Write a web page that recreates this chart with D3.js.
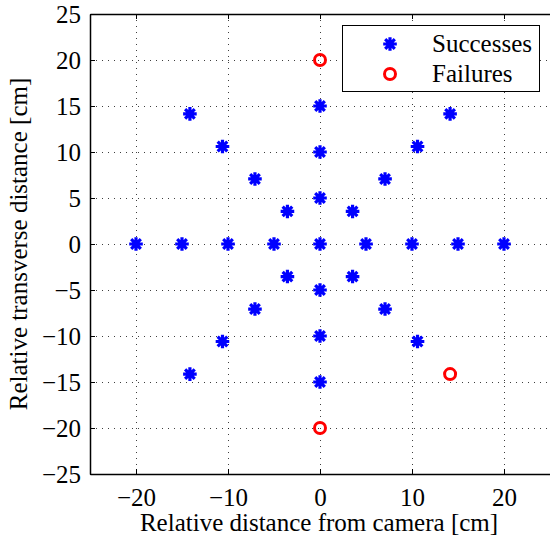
<!DOCTYPE html>
<html>
  <head>
    <meta charset='UTF-8'>
    <style>
    body { margin: 0; background: #fff; }
    svg { display: block; font-family: 'Liberation Serif', 'Times New Roman', serif; }
    .grid line { stroke: #000; stroke-width: 1; stroke-dasharray: 1,5; opacity: 0.75; }
    </style>
  </head>
  <body>
  <script src='https://cdnjs.cloudflare.com/ajax/libs/d3/7.8.5/d3.min.js'></script>
  <script>

    // data (cm)
    var successX = [0, 5, 3.54, 0, -3.54, -5, -3.54, 0, 3.54,
                    10, 7.07, 0, -7.07, -10, -7.07, 0, 7.07,
                    15, 10.6, 0, -10.6, -15, -10.6, 0, 10.6,
                    20, 14.14, -14.14, -20, -14.14];
    var successY = [0, 0, 3.54, 5, 3.54, 0, -3.54, -5, -3.54,
                    0, 7.07, 10, 7.07, 0, -7.07, -10, -7.07,
                    0, 10.6, 15, 10.6, 0, -10.6, -15, -10.6,
                    0, 14.14, 14.14, 0, -14.14];
    var failureX = [0, 0, 14.14];
    var failureY = [20, -20, -14.14];

    var xTicks = [-20, -10, 0, 10, 20];
    var yTicks = [-25, -20, -15, -10, -5, 0, 5, 10, 15, 20, 25];
    var legendLabels = ['Successes', 'Failures'];

    (function() {
    var width = 550, height = 538;
    var mLeft = 90, mTop = 14, mRight = 550, mBottom = 474;
    var fs = 25;

    var x = d3.scaleLinear().domain([-25, 25]).range([mLeft, mRight]);
    var y = d3.scaleLinear().domain([-25, 25]).range([mBottom, mTop]);

    var svg = d3.select('body').append('svg')
      .attr('width', width)
      .attr('height', height);

    // dotted grid
    var grid = svg.append('g').attr('class', 'grid');
    grid.selectAll('.gx').data(xTicks).enter().append('line')
      .attr('x1', d => Math.round(x(d)) + 0.5).attr('x2', d => Math.round(x(d)) + 0.5)
      .attr('y1', mTop).attr('y2', mBottom);
    grid.selectAll('.gy').data(yTicks.slice(1, -1)).enter().append('line')
      .attr('y1', d => Math.round(y(d)) + 0.5).attr('y2', d => Math.round(y(d)) + 0.5)
      .attr('x1', mLeft).attr('x2', mRight);

    var fmt = d => d < 0 ? '\u2212' + Math.abs(d) : d;

    // axes, MATLAB style: inward ticks
    var xAxis = svg.append('g').attr('transform', 'translate(0,' + mBottom + ')')
      .call(d3.axisBottom(x).tickValues(xTicks).tickSizeInner(-5).tickSizeOuter(0).tickPadding(14)
        .tickFormat(fmt));
    var xAxisTop = svg.append('g').attr('transform', 'translate(0,' + mTop + ')')
      .call(d3.axisTop(x).tickValues(xTicks).tickSizeInner(-5).tickSizeOuter(0).tickFormat(''));
    var yAxis = svg.append('g').attr('transform', 'translate(' + mLeft + ',0)')
      .call(d3.axisLeft(y).tickValues(yTicks).tickSizeInner(-5).tickSizeOuter(0).tickPadding(9)
        .tickFormat(fmt));

    [xAxis, xAxisTop, yAxis].forEach(function(g) {
      g.selectAll('.domain').attr('stroke', '#000').attr('stroke-width', 1.5);
      g.selectAll('.tick line').attr('stroke', '#000');
      g.selectAll('text').attr('font-family', 'Liberation Serif').attr('font-size', fs).attr('fill', '#000');
    });

    // asterisk marker
    function star(r) {
      var p = '';
      for (var i = 0; i < 4; i++) {
        var a = i * Math.PI / 4;
        p += 'M' + (r * Math.cos(a)) + ',' + (r * Math.sin(a)) +
             'L' + (-r * Math.cos(a)) + ',' + (-r * Math.sin(a));
      }
      return p;
    }

    var successes = successX.map((d, i) => [d, successY[i]]);
    var failures = failureX.map((d, i) => [d, failureY[i]]);

    svg.append('g').selectAll('path').data(successes).enter().append('path')
      .attr('transform', d => 'translate(' + x(d[0]) + ',' + y(d[1]) + ')')
      .attr('d', star(6.8))
      .attr('stroke', '#0000ff').attr('stroke-width', 3.2).attr('fill', 'none');

    svg.append('g').selectAll('circle').data(failures).enter().append('circle')
      .attr('cx', d => x(d[0])).attr('cy', d => y(d[1])).attr('r', 5.5)
      .attr('stroke', '#ff0000').attr('stroke-width', 3).attr('fill', 'none');

    // legend
    var lg = svg.append('g');
    lg.append('rect').attr('x', 342.5).attr('y', 25.5).attr('width', 197).attr('height', 66)
      .attr('fill', '#fff').attr('stroke', '#000').attr('stroke-width', 1);
    lg.append('path').attr('transform', 'translate(390,44)').attr('d', star(6.8))
      .attr('stroke', '#0000ff').attr('stroke-width', 3.2).attr('fill', 'none');
    lg.append('circle').attr('cx', 390).attr('cy', 74).attr('r', 5.5)
      .attr('stroke', '#ff0000').attr('stroke-width', 3).attr('fill', 'none');
    lg.selectAll('text').data(legendLabels).enter().append('text')
      .attr('x', 432).attr('y', (d, i) => 52 + i * 30)
      .attr('font-size', fs).text(d => d);

    // axis labels
    svg.append('text').attr('x', 319).attr('y', 531)
      .attr('text-anchor', 'middle').attr('font-size', fs)
      .text('Relative distance from camera [cm]');
    svg.append('text').attr('transform', 'translate(27,' + ((mTop + mBottom) / 2) + ') rotate(-90)')
      .attr('text-anchor', 'middle').attr('font-size', fs)
      .text('Relative transverse distance [cm]');
    })();

  </script>
  </body>
</html>
